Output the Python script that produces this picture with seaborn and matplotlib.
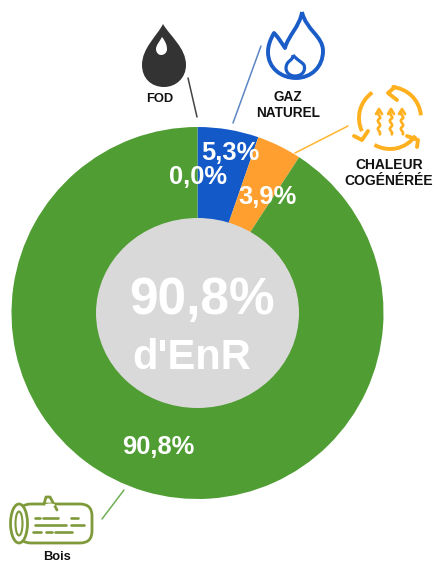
import matplotlib
matplotlib.use("Agg")
import matplotlib.pyplot as plt
from matplotlib.patches import Ellipse, PathPatch, Arc, FancyBboxPatch
from matplotlib.path import Path
import seaborn as sns

categories = ["FOD", "GAZ\nNATUREL", "CHALEUR\nCOGÉNÉRÉE", "Bois"]
values = [0.0, 5.3, 3.9, 90.8]
value_labels = ["0,0%", "5,3%", "3,9%", "90,8%"]
center_title = ["90,8%", "d'EnR"]
colors = ["#333333", "#1359C8", "#FF9F2F", "#4F9D33"]

sns.set_theme(style="white")
plt.rcParams["font.family"] = ["Liberation Sans", "DejaVu Sans"]
W, H = 433, 564
palette = sns.color_palette(colors)

fig = plt.figure(figsize=(W / 100, H / 100), dpi=100)
ax = fig.add_axes([0, 0, 1, 1])


def Y(y):
    return H - y


ax.pie(values, colors=palette, startangle=90, counterclock=False,
       center=(197.5, Y(313)), radius=186, normalize=True,
       wedgeprops=dict(linewidth=0, edgecolor="none"))
ax.set_xlim(0, W)
ax.set_ylim(0, H)
ax.set_aspect("auto")
ax.axis("off")
ax.add_patch(Ellipse((197.5, Y(313)), 203, 190, fc="#D9D9D9", ec="none", zorder=3))


def txt(x, y, s, size, color="white", **kw):
    ax.text(x, Y(y), s, fontsize=size, color=color, ha="center", va="center",
            fontweight="bold", zorder=6, **kw)


# value and centre labels
for (x, y), s in zip([(198, 177), (230, 153), (268, 197), (158, 447)], value_labels):
    txt(x, y, s, 18.4)
txt(202, 300, center_title[0], 37)
txt(192, 358, center_title[1], 30)

# category labels
txt(160, 99, categories[0], 9.3, "#111111")
txt(288, 105, categories[1], 9.8, "#111111", linespacing=1.15)
txt(389, 173, categories[2], 10, "#111111", linespacing=1.1)
txt(57, 557, categories[3], 9.3, "#111111")

# leader lines
for (x0, y0, x1, y1), c in zip(
    [(188, 78, 197, 117), (261, 46, 233, 123), (348, 126, 295, 153), (124, 490, 102, 519)],
    ["#444444", "#5B86C4", "#FFB52E", "#6FAE55"]):
    ax.plot([x0, x1], [Y(y0), Y(y1)], color=c, lw=1.1, zorder=2)


def bez(pts, **kw):
    """pts: start point followed by triples of cubic control points, in px."""
    verts = [(x, Y(y)) for x, y in pts]
    codes = [Path.MOVETO] + [Path.CURVE4] * (len(verts) - 1)
    ax.add_patch(PathPatch(Path(verts, codes), **kw))


def poly(pts, color, lw):
    ax.plot([p[0] for p in pts], [Y(p[1]) for p in pts], color=color, lw=lw,
            solid_capstyle="round", solid_joinstyle="round", zorder=4)


# drop icon
bez([(163, 24), (170, 36), (186, 48), (186, 65), (186, 78), (176, 87), (164, 87),
     (151, 87), (142, 78), (142, 65), (142, 48), (157, 36), (163, 24)],
    fc="#333333", ec="none", zorder=4)
bez([(162, 37), (166, 42), (167, 46), (167, 49), (167, 53), (164, 55), (161, 55),
     (158, 55), (156, 52), (156, 49), (156, 45), (160, 41), (162, 37)],
    fc="white", ec="none", zorder=5)

# flame icon
BLUE = "#1A5CC8"
bez([(302, 12), (300, 26), (288, 36), (285, 48), (281, 42), (278, 37), (274, 33),
     (270, 40), (268, 46), (268, 52), (268, 68), (281, 78), (296, 78),
     (311, 78), (323, 67), (323, 51), (323, 36), (306, 30), (302, 12)],
    fc="none", ec=BLUE, lw=2.8, joinstyle="round", zorder=4)
bez([(293, 55), (293, 60), (289, 60), (287, 64), (284, 70), (288, 76), (295, 76),
     (302, 76), (306, 71), (304, 65), (302, 62), (297, 60), (293, 55)],
    fc="none", ec=BLUE, lw=2.3, joinstyle="round", zorder=4)

# heat cycle icon
AMB = "#FFB01F"
cx, cy, r = 390, 118, 31
for t1, t2 in [(5, 87), (240, 325), (125, 205)]:
    ax.add_patch(Arc((cx, Y(cy)), 2 * r, 2 * r, theta1=t1, theta2=t2, color=AMB, lw=2.8, zorder=4))
for pts in [[(395, 87), (388, 93), (397, 100)],
            [(407, 136), (418, 140), (417, 147)],
            [(354, 136), (362, 140), (368, 131)]]:
    poly(pts, AMB, 2.8)
for wx in [379, 391, 402]:
    bez([(wx, 135), (wx + 4, 132), (wx - 4, 130), (wx, 127),
         (wx + 4, 124), (wx - 4, 122), (wx, 119),
         (wx + 4, 117), (wx - 3, 115), (wx, 112)],
        fc="none", ec=AMB, lw=1.9, zorder=4)
    poly([(wx - 3, 114), (wx, 109), (wx + 3, 114)], AMB, 1.9)

# log icon
OLV = "#7F9A3A"
ax.add_patch(FancyBboxPatch((19, Y(543)), 73, 39, boxstyle="round,pad=0,rounding_size=12",
                            fc="none", ec=OLV, lw=2.0, zorder=4))
ax.add_patch(Ellipse((19, Y(523.5)), 17, 39, fc="white", ec=OLV, lw=2.0, zorder=5))
ax.add_patch(Ellipse((19, Y(523.5)), 7, 24, fc="none", ec=OLV, lw=1.5, zorder=5))
poly([(44, 504), (46, 497), (50, 497), (57, 510)], OLV, 2.0)
ax.add_patch(Ellipse((50, Y(505)), 10, 3, fc="white", ec="none", zorder=5))
for x0, x1, y in [(35, 40, 518), (43, 58, 518), (71, 78, 518),
                  (35, 66, 525), (71, 84, 525),
                  (33, 41, 532), (46, 52, 532), (55, 72, 532)]:
    poly([(x0, y), (x1, y)], OLV, 1.9)

fig.savefig("out.png", dpi=100, facecolor="white")
